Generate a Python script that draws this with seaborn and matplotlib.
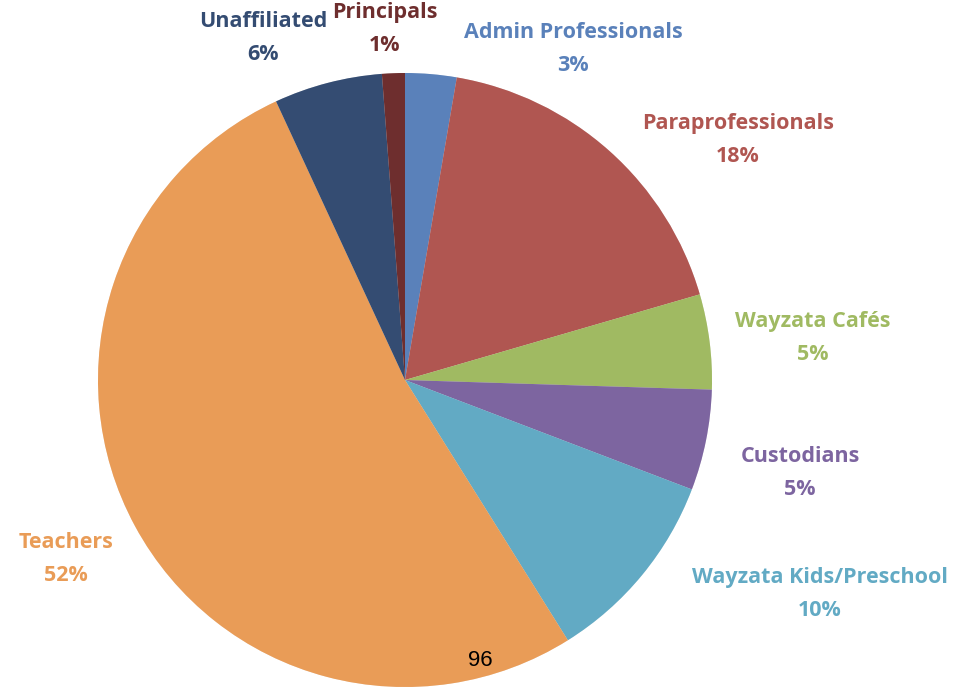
import matplotlib
matplotlib.use("Agg")
import matplotlib.pyplot as plt
import seaborn as sns

categories = ["Admin Professionals", "Paraprofessionals", "Wayzata Cafés", "Custodians",
              "Wayzata Kids/Preschool", "Teachers", "Unaffiliated", "Principals"]
shares = [2.7, 17.8, 5.0, 5.3, 10.3, 52.0, 5.7, 1.2]
label_pct = [3, 18, 5, 5, 10, 52, 6, 1]
colors = ["#5A81BA", "#B05651", "#A0BA62", "#7D65A0", "#62AAC4", "#E99C57", "#344C72", "#6E2E2E"]

sns.set_theme(style="white")
plt.rcParams['font.family'] = ['Open Sans', 'DejaVu Sans']

W, H = 960, 691
fig = plt.figure(figsize=(W / 100, H / 100), dpi=100)
ax = fig.add_axes([0, 0, 1, 1])

cx, cy, r = 405, H - 380, 307
ax.pie(shares, colors=colors, startangle=90, counterclock=False,
       center=(cx, cy), radius=r, frame=True,
       wedgeprops=dict(linewidth=0),
       shadow=dict(ox=0.012, oy=-0.012, shade=0.2, alpha=0.25))
ax.set_xlim(0, W)
ax.set_ylim(0, H)
ax.set_aspect('equal')
ax.axis('off')

label_pos = [(573, 49), (738, 140), (813, 338), (800, 473),
             (820, 594), (66, 559), (263, 38), (385, 29)]
for name, pct, col, (x, y) in zip(categories, label_pct, colors, label_pos):
    ax.text(x, H - y, f"{name}\n{pct}%", color=col, fontsize=15.5, fontweight='bold',
            ha='center', va='center', linespacing=1.7)

ax.text(480, H - 661, "96", color='black', fontsize=16, ha='center', va='center',
        family=['Liberation Sans', 'DejaVu Sans'])

fig.savefig("out.png", dpi=100)
